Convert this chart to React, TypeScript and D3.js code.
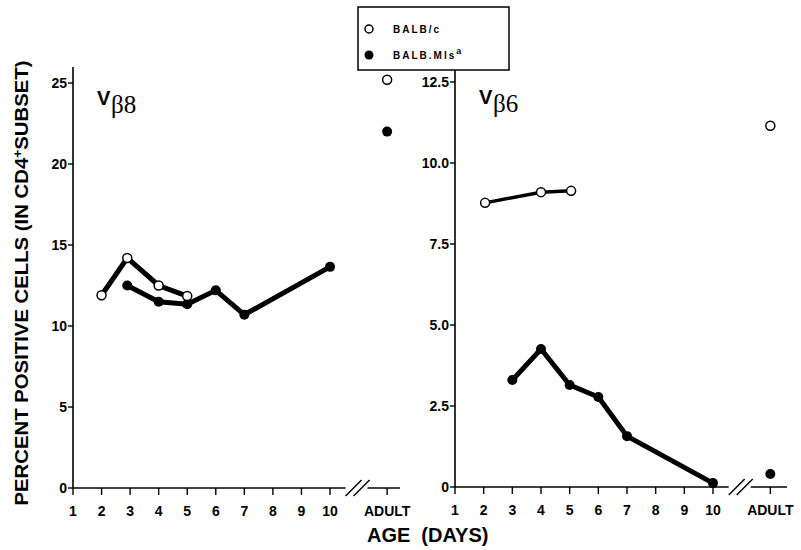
import React from 'react';
import * as d3 from 'd3';

// Vβ8 panel (left)
const v8OpenDays = [2, 2.9, 4, 5];
const v8OpenVals = [11.9, 14.2, 12.5, 11.85];
const v8OpenAdult = 25.2;
const v8FilledDays = [2.9, 4, 5, 6, 7, 10];
const v8FilledVals = [12.5, 11.5, 11.35, 12.2, 10.7, 13.65];
const v8FilledAdult = 22.0;
const v8Ticks = [0, 5, 10, 15, 20, 25];
const v8TickLabels = ['0', '5', '10', '15', '20', '25'];

// Vβ6 panel (right)
const v6OpenDays = [2.05, 4, 5.05];
const v6OpenVals = [8.77, 9.1, 9.14];
const v6OpenAdult = 11.15;
const v6FilledDays = [3, 4, 5, 6, 7, 10];
const v6FilledVals = [3.3, 4.26, 3.15, 2.78, 1.57, 0.12];
const v6FilledAdult = 0.4;
const v6Ticks = [0, 2.5, 5, 7.5, 10, 12.5];
const v6TickLabels = ['0', '2.5', '5.0', '7.5', '10.0', '12.5'];

const dayTicks = [1, 2, 3, 4, 5, 6, 7, 8, 9, 10];
const ADULT_POS = 12;

const sans = 'Liberation Sans, Arial, sans-serif';
const serif = 'Liberation Serif, Times New Roman, serif';

type PanelProps = {
	x0: number; x10: number; yTop: number; yZero: number; yMax: number; axisTop: number; axisEnd: number;
	ticks: number[]; tickLabels: string[];
	openDays: number[]; openVals: number[]; openAdult: number; openWidth: number;
	filledDays: number[]; filledVals: number[]; filledAdult: number;
	label: string;
};

function Panel(p: PanelProps) {
	const x = d3.scaleLinear().domain([1, 10]).range([p.x0, p.x10]);
	const y = d3.scaleLinear().domain([0, p.yMax]).range([p.yZero, p.yTop]);
	const line = d3.line<[number, number]>().x(d => x(d[0])).y(d => y(d[1]));
	const openPts = p.openDays.map((d, i) => [d, p.openVals[i]] as [number, number]);
	const filledPts = p.filledDays.map((d, i) => [d, p.filledVals[i]] as [number, number]);
	const brk = (x(10) + x(ADULT_POS)) / 2 - 3;
	const ax = x(ADULT_POS);
	return (
		<g>
			{/* y axis */}
			<line x1={p.x0} x2={p.x0} y1={p.axisTop} y2={p.yZero} stroke="#000" strokeWidth={1.6} />
			{p.ticks.map((t, i) => (
				<g key={t}>
					<line x1={p.x0 - 5} x2={p.x0} y1={y(t)} y2={y(t)} stroke="#000" strokeWidth={1.4} />
					<text x={p.x0 - 6} y={y(t) + 5} textAnchor="end" fontFamily={sans} fontWeight="bold" fontSize={14}>{p.tickLabels[i]}</text>
				</g>
			))}
			{/* x axis with break */}
			<line x1={p.x0} x2={brk - 10} y1={p.yZero} y2={p.yZero} stroke="#000" strokeWidth={1.6} />
			<line x1={brk + 12} x2={p.axisEnd} y1={p.yZero} y2={p.yZero} stroke="#000" strokeWidth={1.6} />
			<line x1={brk - 10} x2={brk + 6} y1={p.yZero + 8} y2={p.yZero - 8} stroke="#000" strokeWidth={1.4} />
			<line x1={brk - 2} x2={brk + 14} y1={p.yZero + 8} y2={p.yZero - 8} stroke="#000" strokeWidth={1.4} />
			{dayTicks.map(d => (
				<g key={d}>
					<line x1={x(d)} x2={x(d)} y1={p.yZero} y2={p.yZero + 7} stroke="#000" strokeWidth={1.4} />
					<text x={x(d)} y={p.yZero + 28} textAnchor="middle" fontFamily={sans} fontWeight="bold" fontSize={14}>{d}</text>
				</g>
			))}
			<line x1={ax} x2={ax} y1={p.yZero} y2={p.yZero + 7} stroke="#000" strokeWidth={1.4} />
			<text x={ax} y={p.yZero + 28} textAnchor="middle" fontFamily={sans} fontWeight="bold" fontSize={14}>ADULT</text>
			{/* panel label */}
			<text x={p.x0 + 24} y={p.yTop + 22} fontFamily={sans} fontWeight="bold" fontSize={20}>V</text>
			<text x={p.x0 + 38} y={p.yTop + 30} fontFamily={serif} fontSize={25}>{'β' + p.label}</text>
			{/* lines */}
			<path d={line(filledPts) || ''} fill="none" stroke="#000" strokeWidth={5} />
			<path d={line(openPts) || ''} fill="none" stroke="#000" strokeWidth={p.openWidth} />
			{filledPts.map((d, i) => <circle key={'f' + i} cx={x(d[0])} cy={y(d[1])} r={5} fill="#000" />)}
			{openPts.map((d, i) => <circle key={'o' + i} cx={x(d[0])} cy={y(d[1])} r={4.5} fill="#fff" stroke="#000" strokeWidth={1.5} />)}
			<circle cx={ax} cy={y(p.filledAdult)} r={5} fill="#000" />
			<circle cx={ax} cy={y(p.openAdult)} r={4.5} fill="#fff" stroke="#000" strokeWidth={1.5} />
		</g>
	);
}

export default function App() {
	return (
		<svg width={801} height={550} style={{ position: 'absolute', left: 0, top: 0, background: '#fff' }}>
			<Panel x0={73} x10={330} yTop={83} yZero={488} yMax={25} axisTop={67} axisEnd={400}
				ticks={v8Ticks} tickLabels={v8TickLabels}
				openDays={v8OpenDays} openVals={v8OpenVals} openAdult={v8OpenAdult} openWidth={5}
				filledDays={v8FilledDays} filledVals={v8FilledVals} filledAdult={v8FilledAdult} label="8" />
			<Panel x0={455} x10={713} yTop={82} yZero={487} yMax={12.5} axisTop={70} axisEnd={787}
				ticks={v6Ticks} tickLabels={v6TickLabels}
				openDays={v6OpenDays} openVals={v6OpenVals} openAdult={v6OpenAdult} openWidth={3.5}
				filledDays={v6FilledDays} filledVals={v6FilledVals} filledAdult={v6FilledAdult} label="6" />
			{/* legend */}
			<rect x={358} y={7} width={151} height={63} fill="#fff" stroke="#000" strokeWidth={1.5} />
			<circle cx={369} cy={29} r={4} fill="#fff" stroke="#000" strokeWidth={1.5} />
			<circle cx={369} cy={55} r={4.5} fill="#000" />
			<text x={393} y={33} fontFamily={sans} fontWeight="bold" fontSize={10} letterSpacing={2}>BALB/c</text>
			<text x={393} y={59} fontFamily={sans} fontWeight="bold" fontSize={10} letterSpacing={2}>
				BALB.Mls<tspan dy={-5} fontSize={9}>a</tspan>
			</text>
			{/* axis titles */}
			<text transform="translate(28,283) rotate(-90)" textAnchor="middle" fontFamily={sans} fontWeight="bold" fontSize={19} textLength={445} lengthAdjust="spacingAndGlyphs">
				PERCENT POSITIVE CELLS (IN CD4<tspan dy={-6} fontSize={13}>+</tspan><tspan dy={6}>SUBSET)</tspan>
			</text>
			<text x={367} y={542} fontFamily={sans} fontWeight="bold" fontSize={20}>
				AGE<tspan dx={11}>(DAYS)</tspan>
			</text>
		</svg>
	);
}
